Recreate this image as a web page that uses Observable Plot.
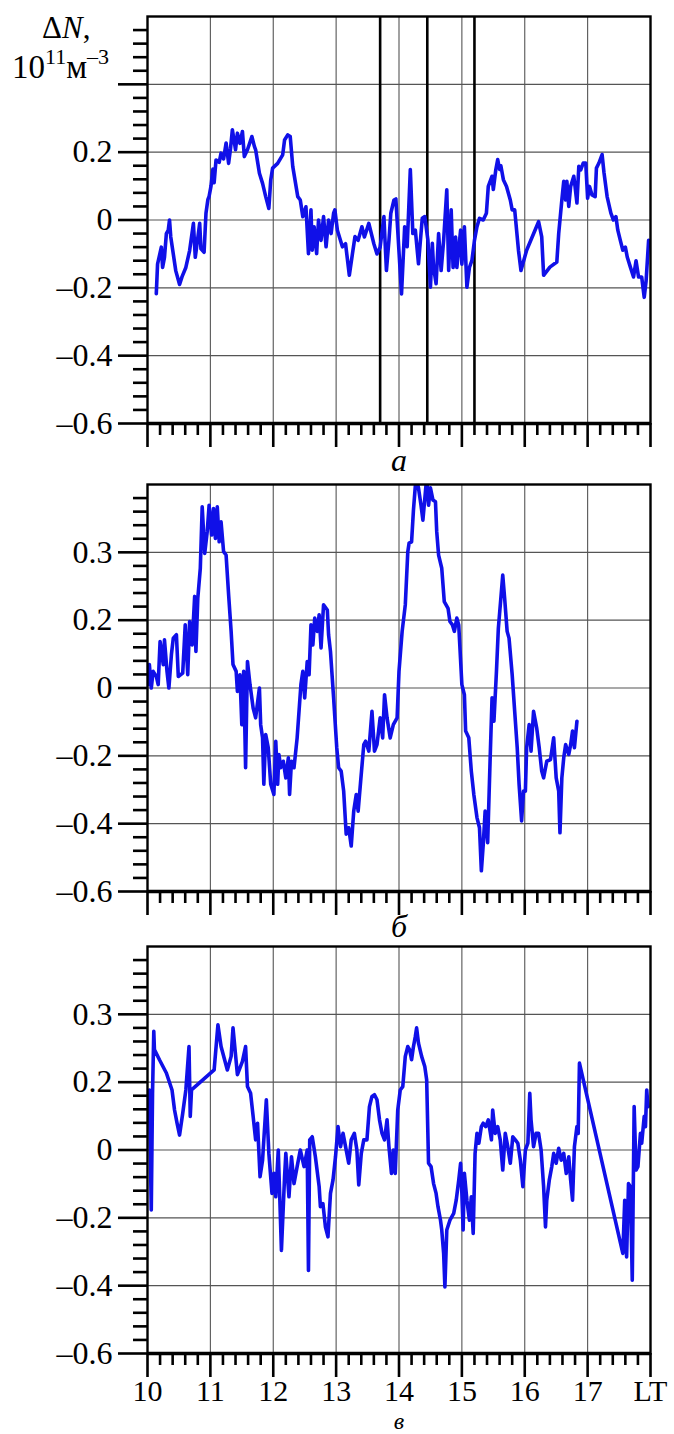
<!DOCTYPE html>
<html><head><meta charset="utf-8">
<script src="https://cdn.jsdelivr.net/npm/d3@7"></script>
<script src="https://cdn.jsdelivr.net/npm/@observablehq/plot@0.6"></script>
<style>
body{margin:0;background:#fff;}
#wrap{position:relative;width:674px;}
svg{display:block;}
svg text, svg tspan{font-family:"Liberation Serif","Tinos","Times New Roman","DejaVu Serif",serif !important;}
</style></head><body><div id="wrap"></div>
<script>
// Panel а
const timeA = [10.14,10.16,10.22,10.24,10.27,10.30,10.33,10.35,10.37,10.45,10.51,10.55,10.61,10.67,10.73,10.76,10.83,10.85,10.90,10.93,10.96,10.98,11.01,11.04,11.06,11.09,11.14,11.17,11.21,11.25,11.29,11.32,11.35,11.40,11.43,11.47,11.51,11.54,11.59,11.66,11.70,11.72,11.78,11.83,11.88,11.93,11.96,11.99,12.07,12.15,12.18,12.23,12.27,12.31,12.39,12.43,12.47,12.52,12.56,12.60,12.62,12.65,12.69,12.72,12.76,12.80,12.84,12.88,12.92,12.96,12.98,13.02,13.10,13.15,13.21,13.26,13.30,13.35,13.41,13.45,13.52,13.60,13.65,13.70,13.76,13.80,13.84,13.87,13.92,13.95,14.04,14.09,14.13,14.18,14.22,14.26,14.31,14.37,14.41,14.46,14.50,14.53,14.55,14.59,14.63,14.67,14.71,14.76,14.79,14.83,14.86,14.90,14.92,14.98,15.00,15.04,15.08,15.12,15.16,15.20,15.24,15.28,15.34,15.39,15.42,15.48,15.50,15.54,15.57,15.60,15.62,15.66,15.71,15.77,15.80,15.84,15.90,15.94,16.03,16.22,16.27,16.30,16.40,16.51,16.54,16.59,16.62,16.65,16.67,16.70,16.73,16.78,16.80,16.83,16.86,16.89,16.93,16.97,17.00,17.03,17.07,17.12,17.14,17.18,17.23,17.26,17.31,17.37,17.41,17.45,17.48,17.52,17.56,17.60,17.63,17.68,17.73,17.77,17.81,17.86,17.90,17.93,17.97];
const dNA = [-0.217,-0.13,-0.08,-0.14,-0.11,-0.04,-0.03,0.0,-0.05,-0.15,-0.19,-0.167,-0.14,-0.09,-0.01,-0.11,-0.01,-0.085,-0.095,0.02,0.06,0.07,0.10,0.15,0.11,0.177,0.17,0.197,0.18,0.227,0.167,0.21,0.266,0.207,0.256,0.226,0.261,0.187,0.207,0.246,0.217,0.207,0.138,0.108,0.069,0.034,0.118,0.153,0.167,0.192,0.236,0.251,0.246,0.158,0.069,0.059,0.01,0.039,-0.099,0.03,-0.089,-0.02,-0.099,0.0,-0.06,0.01,-0.079,0.0,-0.04,0.02,0.03,-0.03,-0.079,-0.07,-0.163,-0.099,-0.049,-0.06,-0.02,-0.05,-0.01,-0.07,-0.10,-0.08,0.01,-0.149,-0.06,0.02,0.059,0.062,-0.218,-0.02,-0.079,0.149,-0.04,-0.03,-0.129,0.005,0.01,-0.06,-0.198,-0.069,-0.14,-0.188,-0.04,-0.149,-0.06,0.089,-0.149,0.03,-0.14,-0.05,-0.14,-0.03,-0.13,-0.02,-0.198,-0.14,-0.119,-0.06,-0.02,0.005,0.0,0.02,0.099,0.129,0.09,0.149,0.178,0.149,0.16,0.119,0.099,0.059,0.03,0.03,-0.089,-0.149,-0.089,-0.005,-0.05,-0.163,-0.139,-0.124,-0.04,0.059,0.114,0.059,0.114,0.04,0.099,0.129,0.099,0.05,0.158,0.148,0.168,0.168,0.064,0.099,0.074,0.069,0.153,0.168,0.193,0.14,0.069,0.02,0.0,0.01,-0.03,-0.06,-0.089,-0.08,-0.109,-0.139,-0.168,-0.12,-0.168,-0.168,-0.228,-0.18,-0.06];

// Panel б
const timeB = [10.01,10.03,10.06,10.09,10.14,10.17,10.20,10.25,10.27,10.31,10.34,10.38,10.41,10.46,10.49,10.56,10.60,10.64,10.67,10.71,10.75,10.77,10.80,10.84,10.87,10.91,10.95,10.98,11.02,11.05,11.08,11.11,11.14,11.17,11.21,11.25,11.29,11.33,11.36,11.41,11.43,11.47,11.50,11.53,11.56,11.59,11.63,11.68,11.72,11.78,11.80,11.83,11.85,11.88,11.92,11.96,12.01,12.04,12.07,12.09,12.12,12.16,12.20,12.24,12.26,12.29,12.33,12.38,12.44,12.47,12.50,12.54,12.57,12.60,12.63,12.66,12.70,12.73,12.76,12.80,12.86,12.88,12.91,12.96,13.01,13.04,13.08,13.12,13.16,13.20,13.24,13.28,13.32,13.35,13.39,13.44,13.47,13.52,13.57,13.61,13.65,13.70,13.74,13.77,13.81,13.86,13.91,13.97,14.00,14.05,14.10,14.14,14.16,14.20,14.23,14.27,14.31,14.35,14.38,14.42,14.44,14.47,14.50,14.54,14.58,14.60,14.63,14.68,14.72,14.78,14.81,14.85,14.88,14.92,14.95,15.00,15.04,15.06,15.11,15.15,15.19,15.24,15.28,15.31,15.34,15.37,15.41,15.45,15.48,15.51,15.55,15.58,15.62,15.65,15.68,15.72,15.75,15.80,15.84,15.88,15.91,15.95,15.98,16.01,16.03,16.07,16.10,16.14,16.19,16.23,16.27,16.30,16.35,16.41,16.46,16.50,16.54,16.56,16.59,16.62,16.65,16.70,16.73,16.76,16.79,16.83];
const dNB = [0.01,0.069,0.0,0.049,0.034,0.01,0.137,0.069,0.142,0.049,0.0,0.098,0.147,0.157,0.034,0.044,0.186,0.039,0.196,0.127,0.27,0.108,0.265,0.353,0.534,0.397,0.461,0.539,0.451,0.529,0.441,0.534,0.431,0.49,0.402,0.392,0.275,0.167,0.069,0.049,-0.01,0.039,-0.108,0.049,-0.235,0.078,0.01,-0.059,-0.088,0.0,-0.108,-0.147,-0.284,-0.137,-0.176,-0.284,-0.314,-0.157,-0.284,-0.196,-0.235,-0.216,-0.265,-0.206,-0.314,-0.216,-0.235,-0.147,0.01,0.049,-0.029,0.078,0.039,0.186,0.127,0.206,0.167,0.216,0.118,0.245,0.23,0.157,0.108,-0.029,-0.176,-0.235,-0.245,-0.304,-0.431,-0.412,-0.466,-0.363,-0.314,-0.363,-0.275,-0.167,-0.157,-0.186,-0.069,-0.186,-0.167,-0.088,-0.147,-0.02,-0.088,-0.147,-0.108,-0.088,0.049,0.167,0.245,0.402,0.427,0.431,0.525,0.62,0.59,0.539,0.495,0.578,0.62,0.539,0.59,0.554,0.549,0.461,0.392,0.353,0.255,0.235,0.196,0.186,0.167,0.206,0.186,0.01,-0.02,-0.127,-0.147,-0.245,-0.314,-0.382,-0.412,-0.539,-0.461,-0.363,-0.456,-0.206,-0.029,-0.098,0.049,0.176,0.265,0.333,0.265,0.167,0.147,0.039,-0.069,-0.176,-0.284,-0.392,-0.304,-0.304,-0.176,-0.108,-0.186,-0.069,-0.118,-0.176,-0.245,-0.265,-0.216,-0.211,-0.147,-0.265,-0.304,-0.427,-0.265,-0.206,-0.167,-0.196,-0.167,-0.127,-0.176,-0.098];

// Panel в
const timeC = [10.01,10.03,10.06,10.08,10.10,10.11,10.19,10.30,10.39,10.43,10.47,10.51,10.56,10.61,10.66,10.68,10.70,11.06,11.12,11.17,11.27,11.33,11.36,11.43,11.51,11.56,11.59,11.64,11.68,11.72,11.75,11.79,11.83,11.85,11.89,11.93,11.98,12.01,12.04,12.08,12.13,12.18,12.20,12.25,12.29,12.33,12.38,12.43,12.49,12.54,12.56,12.58,12.62,12.67,12.73,12.75,12.79,12.83,12.87,12.91,12.95,12.99,13.03,13.07,13.11,13.15,13.20,13.24,13.29,13.33,13.36,13.40,13.44,13.49,13.53,13.57,13.61,13.65,13.69,13.73,13.77,13.81,13.84,13.88,13.91,13.94,13.98,14.02,14.06,14.10,14.14,14.17,14.20,14.23,14.26,14.28,14.31,14.36,14.41,14.44,14.47,14.51,14.55,14.59,14.62,14.66,14.68,14.71,14.73,14.76,14.81,14.87,14.91,14.95,14.98,15.00,15.02,15.04,15.08,15.12,15.15,15.18,15.21,15.24,15.27,15.31,15.34,15.38,15.42,15.47,15.49,15.53,15.57,15.61,15.65,15.69,15.73,15.77,15.81,15.85,15.89,15.93,15.97,16.01,16.05,16.08,16.10,16.14,16.18,16.22,16.26,16.30,16.33,16.35,16.39,16.43,16.46,16.50,16.54,16.58,16.62,16.66,16.70,16.73,16.76,16.79,16.83,16.85,16.87,17.56,17.59,17.62,17.65,17.68,17.71,17.74,17.77,17.80,17.84,17.86,17.90,17.92,17.94,17.96];
const dNC = [0.085,0.177,-0.177,0.167,0.35,0.296,0.266,0.227,0.177,0.118,0.079,0.044,0.108,0.177,0.305,0.099,0.177,0.236,0.369,0.305,0.236,0.276,0.36,0.222,0.261,0.305,0.187,0.167,0.099,0.03,0.079,-0.079,-0.03,0.03,0.148,-0.01,-0.128,-0.069,-0.138,0.0,-0.296,-0.079,-0.01,-0.138,-0.02,-0.099,-0.049,0.0,-0.049,0.0,-0.355,0.03,0.039,-0.02,-0.108,-0.167,-0.158,-0.227,-0.256,-0.128,-0.089,-0.02,0.069,0.01,0.049,0.01,-0.039,0.03,0.049,0.0,-0.103,-0.01,0.03,0.03,0.128,0.158,0.163,0.148,0.089,0.049,0.03,0.089,0.01,-0.069,0.0,-0.069,0.118,0.177,0.187,0.276,0.305,0.295,0.266,0.305,0.335,0.36,0.315,0.276,0.246,0.207,-0.039,-0.049,-0.099,-0.128,-0.167,-0.207,-0.236,-0.305,-0.404,-0.236,-0.207,-0.187,-0.148,-0.089,-0.039,-0.128,-0.236,-0.069,-0.148,-0.207,-0.138,-0.246,-0.01,0.049,0.02,0.069,0.079,0.069,0.089,0.03,0.118,0.049,0.069,0.03,-0.059,0.049,0.01,-0.039,0.039,0.03,0.02,-0.03,-0.108,0.0,0.02,0.167,0.089,0.01,0.049,0.049,0.0,-0.108,-0.227,-0.148,-0.089,-0.049,-0.01,-0.039,0.005,-0.03,-0.01,-0.069,-0.02,-0.089,-0.148,0.01,0.069,0.049,0.256,-0.305,-0.148,-0.315,-0.099,-0.108,-0.384,0.128,-0.059,-0.049,0.049,0.02,0.099,0.069,0.177,0.128];

// Axis ticks and labels
const yMajor = [-0.6, -0.4, -0.2, 0, 0.2, 0.4];
const yLabelsA = ["\u20130.6", "\u20130.4", "\u20130.2", "0", "0.2", ""];
const yLabelsBC = ["\u20130.6", "\u20130.4", "\u20130.2", "0", "0.2", "0.3"];
const yMinor = d3.range(-14, 15).filter(k => k % 5 !== 0).map(k => +(k * 0.04).toFixed(2));
const xMajor = [10, 11, 12, 13, 14, 15, 16, 17, 18];
const xLabels = ["10", "11", "12", "13", "14", "15", "16", "17", "LT"];
const xMinor = d3.range(50, 91).filter(k => k % 5 !== 0).map(k => k / 5);
const markerTimes = [13.7, 14.45, 15.2];
const panelLetters = ["а", "б", "в"];
const yTitle1 = ["Δ", "N", ","];
const yTitle2 = ["10", "11", "м", "–3"];

const SERIF = "Liberation Serif, Tinos, Times New Roman, DejaVu Serif, serif";
const BLUE = "#1010e8";

function panel({time, dN, yLabels, showX, letter, letterDy, letterSize, height, marginTop, marginBottom, markers}) {
  const data = time.map((t, i) => ({t, v: dN[i]}));
  return Plot.plot({
    width: 674, height, marginLeft: 147, marginRight: 24, marginTop, marginBottom,
    x: {domain: [10, 18]},
    y: {domain: [-0.6, 0.6]},
    style: {fontFamily: SERIF, fontSize: "32px", background: "white", color: "black", overflow: "visible"},
    marks: [
      Plot.gridX(xMajor.slice(1, -1), {stroke: "#555", strokeOpacity: 1, strokeWidth: 1.1}),
      Plot.gridY(yMajor.slice(1), {stroke: "#555", strokeOpacity: 1, strokeWidth: 1.1}),
      markers ? Plot.ruleX(markers, {stroke: "black", strokeWidth: 2.6}) : null,
      Plot.line(data, {x: "t", y: "v", stroke: BLUE, strokeWidth: 3.6, strokeLinejoin: "round", clip: true}),
      Plot.frame({stroke: "black", strokeWidth: 2.4}),
      Plot.ruleY([-0.6], {stroke: "black", strokeWidth: 3.6}),
      Plot.axisY(yMinor, {tickSize: 14, tickFormat: () => "", strokeWidth: 2.6, label: null}),
      Plot.axisY(yMajor, {tickSize: 29, tickPadding: 6, tickFormat: d => yLabels[yMajor.indexOf(d)], strokeWidth: 2.6, label: null, fontSize: 32}),
      Plot.axisX(xMinor, {tickSize: 12, tickFormat: () => "", strokeWidth: 2.6, label: null}),
      Plot.axisX(xMajor, {tickSize: 24, tickPadding: 2, tickFormat: showX ? (d => xLabels[xMajor.indexOf(d)]) : (() => ""), strokeWidth: 2.6, label: null, fontSize: 30}),
      Plot.text([letter], {x: [14], text: d => d, frameAnchor: "bottom", lineAnchor: "middle", dy: letterDy, fontStyle: "italic", fontSize: letterSize})
    ]
  });
}

const wrap = document.getElementById("wrap");
const svgA = panel({time: timeA, dN: dNA, yLabels: yLabelsA, showX: false, letter: panelLetters[0], letterDy: 37, letterSize: 32, height: 470, marginTop: 16, marginBottom: 47, markers: markerTimes});
const svgB = panel({time: timeB, dN: dNB, yLabels: yLabelsBC, showX: false, letter: panelLetters[1], letterDy: 35, letterSize: 32, height: 472, marginTop: 14, marginBottom: 51});
const svgC = panel({time: timeC, dN: dNC, yLabels: yLabelsBC, showX: true, letter: panelLetters[2], letterDy: 68, letterSize: 24, height: 492, marginTop: 4, marginBottom: 81});
wrap.append(svgA, svgB, svgC);

// y-axis title on panel а
const sA = d3.select(svgA);
const t1 = sA.append("text").attr("x", 42).attr("y", 38).attr("text-anchor", "start").attr("font-family", SERIF).attr("font-size", 31).attr("fill", "black");
t1.append("tspan").text(yTitle1[0]);
t1.append("tspan").attr("font-style", "italic").text(yTitle1[1]);
t1.append("tspan").text(yTitle1[2]);
const t2 = sA.append("text").attr("x", 12).attr("y", 78).attr("text-anchor", "start").attr("font-family", SERIF).attr("font-size", 33).attr("fill", "black");
t2.append("tspan").text(yTitle2[0]);
t2.append("tspan").attr("font-size", 22).attr("dy", -14).text(yTitle2[1]);
t2.append("tspan").attr("dy", 14).text(yTitle2[2]);
t2.append("tspan").attr("font-size", 22).attr("dy", -14).text(yTitle2[3]);
</script>
</body></html>
